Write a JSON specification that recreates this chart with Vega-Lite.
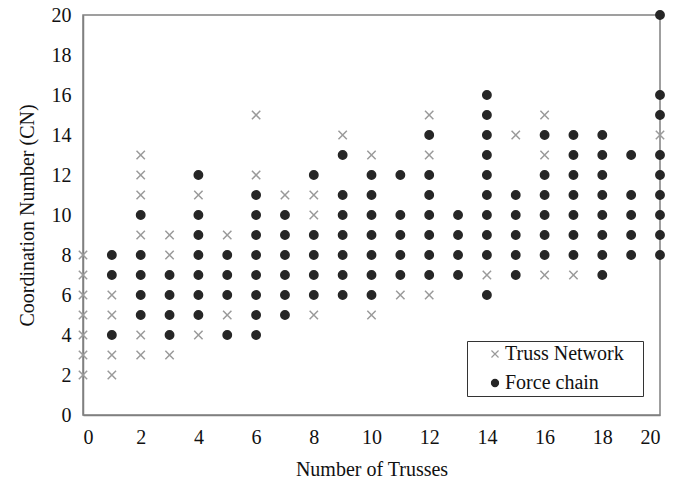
{
  "$schema": "https://vega.github.io/schema/vega-lite/v6.json",
  "width": 577,
  "height": 400,
  "autosize": {"type": "none"},
  "padding": {"left": 83, "top": 15, "right": 24, "bottom": 65},
  "background": "white",
  "config": {
    "font": "Liberation Serif",
    "view": {"stroke": "#808080", "strokeWidth": 1.5},
    "axis": {
      "grid": false,
      "ticks": false,
      "domainColor": "#808080",
      "domainWidth": 1.5,
      "labelFont": "Liberation Serif",
      "labelFontSize": 20,
      "labelColor": "#111",
      "labelPadding": 12,
      "titleFont": "Liberation Serif",
      "titleFontSize": 20,
      "titleFontWeight": "normal",
      "titleColor": "#111"
    },
    "legend": {
      "orient": "none",
      "legendX": 384,
      "legendY": 326,
      "titleOrient": "right",
      "titlePadding": 16,
      "titleFontSize": 2,
      "strokeColor": "#333",
      "fillColor": "white",
      "padding": 3,
      "rowPadding": 9,
      "symbolOffset": 15,
      "labelFont": "Liberation Serif",
      "labelFontSize": 20,
      "labelColor": "#111",
      "labelOffset": 0,
      "symbolSize": 50,
      "symbolStrokeWidth": 1.2,
      "labelLimit": 300
    }
  },
  "data": {
    "values": [
      {"trusses": 0, "cn": 2, "series": "Truss Network"},
      {"trusses": 0, "cn": 3, "series": "Truss Network"},
      {"trusses": 0, "cn": 4, "series": "Truss Network"},
      {"trusses": 0, "cn": 5, "series": "Truss Network"},
      {"trusses": 0, "cn": 6, "series": "Truss Network"},
      {"trusses": 0, "cn": 7, "series": "Truss Network"},
      {"trusses": 0, "cn": 8, "series": "Truss Network"},
      {"trusses": 1, "cn": 2, "series": "Truss Network"},
      {"trusses": 1, "cn": 3, "series": "Truss Network"},
      {"trusses": 1, "cn": 5, "series": "Truss Network"},
      {"trusses": 1, "cn": 6, "series": "Truss Network"},
      {"trusses": 2, "cn": 3, "series": "Truss Network"},
      {"trusses": 2, "cn": 4, "series": "Truss Network"},
      {"trusses": 2, "cn": 9, "series": "Truss Network"},
      {"trusses": 2, "cn": 11, "series": "Truss Network"},
      {"trusses": 2, "cn": 12, "series": "Truss Network"},
      {"trusses": 2, "cn": 13, "series": "Truss Network"},
      {"trusses": 3, "cn": 3, "series": "Truss Network"},
      {"trusses": 3, "cn": 8, "series": "Truss Network"},
      {"trusses": 3, "cn": 9, "series": "Truss Network"},
      {"trusses": 4, "cn": 4, "series": "Truss Network"},
      {"trusses": 4, "cn": 11, "series": "Truss Network"},
      {"trusses": 5, "cn": 5, "series": "Truss Network"},
      {"trusses": 5, "cn": 9, "series": "Truss Network"},
      {"trusses": 6, "cn": 12, "series": "Truss Network"},
      {"trusses": 6, "cn": 15, "series": "Truss Network"},
      {"trusses": 7, "cn": 11, "series": "Truss Network"},
      {"trusses": 8, "cn": 5, "series": "Truss Network"},
      {"trusses": 8, "cn": 10, "series": "Truss Network"},
      {"trusses": 8, "cn": 11, "series": "Truss Network"},
      {"trusses": 9, "cn": 14, "series": "Truss Network"},
      {"trusses": 10, "cn": 5, "series": "Truss Network"},
      {"trusses": 10, "cn": 13, "series": "Truss Network"},
      {"trusses": 11, "cn": 6, "series": "Truss Network"},
      {"trusses": 12, "cn": 6, "series": "Truss Network"},
      {"trusses": 12, "cn": 13, "series": "Truss Network"},
      {"trusses": 12, "cn": 15, "series": "Truss Network"},
      {"trusses": 14, "cn": 7, "series": "Truss Network"},
      {"trusses": 15, "cn": 14, "series": "Truss Network"},
      {"trusses": 16, "cn": 7, "series": "Truss Network"},
      {"trusses": 16, "cn": 13, "series": "Truss Network"},
      {"trusses": 16, "cn": 15, "series": "Truss Network"},
      {"trusses": 17, "cn": 7, "series": "Truss Network"},
      {"trusses": 20, "cn": 14, "series": "Truss Network"},
      {"trusses": 1, "cn": 4, "series": "Force chain"},
      {"trusses": 1, "cn": 7, "series": "Force chain"},
      {"trusses": 1, "cn": 8, "series": "Force chain"},
      {"trusses": 2, "cn": 5, "series": "Force chain"},
      {"trusses": 2, "cn": 6, "series": "Force chain"},
      {"trusses": 2, "cn": 7, "series": "Force chain"},
      {"trusses": 2, "cn": 8, "series": "Force chain"},
      {"trusses": 2, "cn": 10, "series": "Force chain"},
      {"trusses": 3, "cn": 4, "series": "Force chain"},
      {"trusses": 3, "cn": 5, "series": "Force chain"},
      {"trusses": 3, "cn": 6, "series": "Force chain"},
      {"trusses": 3, "cn": 7, "series": "Force chain"},
      {"trusses": 4, "cn": 5, "series": "Force chain"},
      {"trusses": 4, "cn": 6, "series": "Force chain"},
      {"trusses": 4, "cn": 7, "series": "Force chain"},
      {"trusses": 4, "cn": 8, "series": "Force chain"},
      {"trusses": 4, "cn": 9, "series": "Force chain"},
      {"trusses": 4, "cn": 10, "series": "Force chain"},
      {"trusses": 4, "cn": 12, "series": "Force chain"},
      {"trusses": 5, "cn": 4, "series": "Force chain"},
      {"trusses": 5, "cn": 6, "series": "Force chain"},
      {"trusses": 5, "cn": 7, "series": "Force chain"},
      {"trusses": 5, "cn": 8, "series": "Force chain"},
      {"trusses": 6, "cn": 4, "series": "Force chain"},
      {"trusses": 6, "cn": 5, "series": "Force chain"},
      {"trusses": 6, "cn": 6, "series": "Force chain"},
      {"trusses": 6, "cn": 7, "series": "Force chain"},
      {"trusses": 6, "cn": 8, "series": "Force chain"},
      {"trusses": 6, "cn": 9, "series": "Force chain"},
      {"trusses": 6, "cn": 10, "series": "Force chain"},
      {"trusses": 6, "cn": 11, "series": "Force chain"},
      {"trusses": 7, "cn": 5, "series": "Force chain"},
      {"trusses": 7, "cn": 6, "series": "Force chain"},
      {"trusses": 7, "cn": 7, "series": "Force chain"},
      {"trusses": 7, "cn": 8, "series": "Force chain"},
      {"trusses": 7, "cn": 9, "series": "Force chain"},
      {"trusses": 7, "cn": 10, "series": "Force chain"},
      {"trusses": 8, "cn": 6, "series": "Force chain"},
      {"trusses": 8, "cn": 7, "series": "Force chain"},
      {"trusses": 8, "cn": 8, "series": "Force chain"},
      {"trusses": 8, "cn": 9, "series": "Force chain"},
      {"trusses": 8, "cn": 12, "series": "Force chain"},
      {"trusses": 9, "cn": 6, "series": "Force chain"},
      {"trusses": 9, "cn": 7, "series": "Force chain"},
      {"trusses": 9, "cn": 8, "series": "Force chain"},
      {"trusses": 9, "cn": 9, "series": "Force chain"},
      {"trusses": 9, "cn": 10, "series": "Force chain"},
      {"trusses": 9, "cn": 11, "series": "Force chain"},
      {"trusses": 9, "cn": 13, "series": "Force chain"},
      {"trusses": 10, "cn": 6, "series": "Force chain"},
      {"trusses": 10, "cn": 7, "series": "Force chain"},
      {"trusses": 10, "cn": 8, "series": "Force chain"},
      {"trusses": 10, "cn": 9, "series": "Force chain"},
      {"trusses": 10, "cn": 10, "series": "Force chain"},
      {"trusses": 10, "cn": 11, "series": "Force chain"},
      {"trusses": 10, "cn": 12, "series": "Force chain"},
      {"trusses": 11, "cn": 7, "series": "Force chain"},
      {"trusses": 11, "cn": 8, "series": "Force chain"},
      {"trusses": 11, "cn": 9, "series": "Force chain"},
      {"trusses": 11, "cn": 10, "series": "Force chain"},
      {"trusses": 11, "cn": 12, "series": "Force chain"},
      {"trusses": 12, "cn": 7, "series": "Force chain"},
      {"trusses": 12, "cn": 8, "series": "Force chain"},
      {"trusses": 12, "cn": 9, "series": "Force chain"},
      {"trusses": 12, "cn": 10, "series": "Force chain"},
      {"trusses": 12, "cn": 11, "series": "Force chain"},
      {"trusses": 12, "cn": 12, "series": "Force chain"},
      {"trusses": 12, "cn": 14, "series": "Force chain"},
      {"trusses": 13, "cn": 7, "series": "Force chain"},
      {"trusses": 13, "cn": 8, "series": "Force chain"},
      {"trusses": 13, "cn": 9, "series": "Force chain"},
      {"trusses": 13, "cn": 10, "series": "Force chain"},
      {"trusses": 14, "cn": 6, "series": "Force chain"},
      {"trusses": 14, "cn": 8, "series": "Force chain"},
      {"trusses": 14, "cn": 9, "series": "Force chain"},
      {"trusses": 14, "cn": 10, "series": "Force chain"},
      {"trusses": 14, "cn": 11, "series": "Force chain"},
      {"trusses": 14, "cn": 12, "series": "Force chain"},
      {"trusses": 14, "cn": 13, "series": "Force chain"},
      {"trusses": 14, "cn": 14, "series": "Force chain"},
      {"trusses": 14, "cn": 15, "series": "Force chain"},
      {"trusses": 14, "cn": 16, "series": "Force chain"},
      {"trusses": 15, "cn": 7, "series": "Force chain"},
      {"trusses": 15, "cn": 8, "series": "Force chain"},
      {"trusses": 15, "cn": 9, "series": "Force chain"},
      {"trusses": 15, "cn": 10, "series": "Force chain"},
      {"trusses": 15, "cn": 11, "series": "Force chain"},
      {"trusses": 16, "cn": 8, "series": "Force chain"},
      {"trusses": 16, "cn": 9, "series": "Force chain"},
      {"trusses": 16, "cn": 10, "series": "Force chain"},
      {"trusses": 16, "cn": 11, "series": "Force chain"},
      {"trusses": 16, "cn": 12, "series": "Force chain"},
      {"trusses": 16, "cn": 14, "series": "Force chain"},
      {"trusses": 17, "cn": 8, "series": "Force chain"},
      {"trusses": 17, "cn": 9, "series": "Force chain"},
      {"trusses": 17, "cn": 10, "series": "Force chain"},
      {"trusses": 17, "cn": 11, "series": "Force chain"},
      {"trusses": 17, "cn": 12, "series": "Force chain"},
      {"trusses": 17, "cn": 13, "series": "Force chain"},
      {"trusses": 17, "cn": 14, "series": "Force chain"},
      {"trusses": 18, "cn": 7, "series": "Force chain"},
      {"trusses": 18, "cn": 8, "series": "Force chain"},
      {"trusses": 18, "cn": 9, "series": "Force chain"},
      {"trusses": 18, "cn": 10, "series": "Force chain"},
      {"trusses": 18, "cn": 11, "series": "Force chain"},
      {"trusses": 18, "cn": 12, "series": "Force chain"},
      {"trusses": 18, "cn": 13, "series": "Force chain"},
      {"trusses": 18, "cn": 14, "series": "Force chain"},
      {"trusses": 19, "cn": 8, "series": "Force chain"},
      {"trusses": 19, "cn": 9, "series": "Force chain"},
      {"trusses": 19, "cn": 10, "series": "Force chain"},
      {"trusses": 19, "cn": 11, "series": "Force chain"},
      {"trusses": 19, "cn": 13, "series": "Force chain"},
      {"trusses": 20, "cn": 8, "series": "Force chain"},
      {"trusses": 20, "cn": 9, "series": "Force chain"},
      {"trusses": 20, "cn": 10, "series": "Force chain"},
      {"trusses": 20, "cn": 11, "series": "Force chain"},
      {"trusses": 20, "cn": 12, "series": "Force chain"},
      {"trusses": 20, "cn": 13, "series": "Force chain"},
      {"trusses": 20, "cn": 15, "series": "Force chain"},
      {"trusses": 20, "cn": 16, "series": "Force chain"},
      {"trusses": 20, "cn": 20, "series": "Force chain"}
    ]
  },
  "mark": {"type": "point", "size": 70, "strokeWidth": 1.5, "opacity": 1, "clip": false},
  "encoding": {
    "x": {
      "field": "trusses",
      "type": "quantitative",
      "title": "Number of Trusses",
      "scale": {"domain": [0, 20], "nice": false},
      "axis": {"values": [0, 2, 4, 6, 8, 10, 12, 14, 16, 18, 20], "titlePadding": 12}
    },
    "y": {
      "field": "cn",
      "type": "quantitative",
      "title": "Coordination Number (CN)",
      "scale": {"domain": [0, 20], "nice": false},
      "axis": {"values": [0, 2, 4, 6, 8, 10, 12, 14, 16, 18, 20], "titlePadding": 14}
    },
    "shape": {
      "field": "series",
      "type": "nominal",
      "title": " ",
      "scale": {"domain": ["Truss Network", "Force chain"], "range": ["M-1,-1L1,1M-1,1L1,-1", "circle"]}
    },
    "fill": {
      "field": "series",
      "type": "nominal",
      "title": " ",
      "scale": {"domain": ["Truss Network", "Force chain"], "range": ["transparent", "#262626"]}
    },
    "stroke": {
      "field": "series",
      "type": "nominal",
      "title": " ",
      "scale": {"domain": ["Truss Network", "Force chain"], "range": ["#9a9a9a", "#262626"]}
    }
  }
}
